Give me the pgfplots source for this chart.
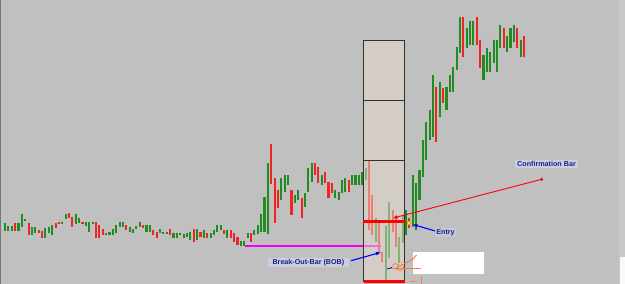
\documentclass[border=0pt]{standalone}
\usepackage{fontspec}
\setmainfont{Liberation Sans}
\usepackage{pgfplots}
\usepackage{pgfplotstable}
\pgfplotsset{compat=1.18}
\usetikzlibrary{arrows.meta}
\definecolor{bg}{RGB}{192,192,192}
\definecolor{gbar}{RGB}{34,139,34}
\definecolor{rbar}{RGB}{240,36,36}
\definecolor{boxfill}{RGB}{232,218,202}
\definecolor{navy}{RGB}{28,36,128}
\definecolor{lblbg}{RGB}{201,207,224}
\definecolor{orng}{RGB}{240,130,70}
\definecolor{mag}{RGB}{240,0,240}
\definecolor{stripc}{RGB}{200,200,200}

\pgfplotstableread{
x top bot
5.00 222.7 230.7
8.37 226.0 230.7
11.74 226.0 230.7
18.48 222.7 230.7
21.85 214.0 226.7
25.22 219.0 221.0
31.96 226.7 235.0
35.33 226.7 233.3
45.44 228.3 238.3
48.81 226.7 233.3
52.18 225.0 235.0
62.29 221.7 224.0
65.66 214.0 219.3
75.77 214.0 224.0
79.14 218.3 223.3
85.88 221.7 226.0
89.25 221.7 231.7
92.62 221.7 223.7
106.10 233.0 235.0
109.47 231.7 235.0
112.84 229.0 235.0
116.21 225.0 233.0
119.58 221.7 226.7
122.95 221.7 226.7
129.69 226.7 231.7
133.06 229.0 233.3
136.43 226.0 229.3
139.80 221.7 226.7
146.54 225.0 231.7
149.91 225.0 231.7
160.02 229.3 233.3
163.39 231.7 234.3
166.76 231.7 233.7
173.50 232.7 237.7
176.87 232.7 238.3
180.24 233.3 235.3
183.61 234.3 237.7
186.98 233.3 236.7
190.35 231.7 240.0
197.09 229.3 240.0
203.83 230.0 238.3
210.57 233.3 238.3
213.94 230.0 235.0
217.31 225.0 231.7
220.68 225.0 230.0
227.42 230.0 238.3
240.90 241.0 245.7
244.27 241.0 245.7
247.64 233.3 238.3
254.38 230.0 235.0
257.75 225.0 234.3
261.12 214.0 231.7
264.49 197.3 231.7
267.86 163.3 234.3
281.34 178.3 200.0
284.71 175.0 191.7
288.08 175.0 185.0
294.82 195.0 203.3
298.19 190.0 200.0
304.93 193.0 207.0
308.30 168.0 192.0
311.67 163.0 182.0
321.78 175.0 185.0
335.26 190.0 198.0
338.63 192.0 200.0
342.00 180.0 193.0
345.37 178.0 192.0
352.11 175.0 185.0
355.48 175.0 185.0
358.85 175.0 185.0
362.22 172.0 185.0
365.59 168.0 180.0
375.70 218.0 242.0
385.81 226.0 282.0
389.18 202.0 258.0
399.29 237.0 263.0
402.66 215.0 243.0
406.03 210.0 235.0
412.77 175.0 227.0
416.14 183.0 230.0
419.51 170.0 200.0
422.88 140.0 177.0
426.25 122.0 160.0
429.62 110.0 140.0
432.99 75.0 137.0
439.73 82.0 117.0
446.47 87.0 110.0
449.84 75.0 92.0
453.21 67.0 92.0
456.58 47.0 70.0
459.95 17.0 53.0
466.69 28.0 48.0
470.06 21.0 45.0
473.43 21.0 45.0
483.54 55.0 80.0
486.91 48.0 72.0
490.28 52.0 72.0
493.65 40.0 63.0
497.02 40.0 72.0
500.39 25.0 48.0
507.13 36.0 52.0
510.50 28.0 48.0
513.87 25.0 42.0
520.61 40.0 57.0
}\greenbars

\pgfplotstableread{
x top bot
15.11 222.7 230.7
28.59 222.7 235.0
38.70 230.0 233.3
42.07 230.7 238.3
55.55 223.3 228.3
58.92 221.7 224.0
69.03 213.3 218.3
72.40 216.7 227.3
82.51 221.7 223.7
95.99 221.7 238.3
99.36 225.0 238.3
102.73 229.0 235.0
126.32 225.0 230.0
143.17 225.0 228.3
153.28 230.0 235.0
156.65 231.7 237.7
170.13 229.3 235.0
193.72 229.3 241.7
200.46 231.7 236.7
207.20 233.3 238.3
224.05 230.0 234.3
230.79 230.0 238.3
234.16 233.3 241.7
237.53 236.7 245.0
251.01 233.3 242.3
271.23 144.3 184.3
274.60 178.3 223.3
277.97 190.0 207.7
291.45 190.0 215.0
301.56 198.3 218.3
315.04 163.0 175.0
318.41 167.0 183.0
325.15 172.0 183.0
328.52 182.0 198.0
331.89 183.0 193.0
348.74 180.0 192.0
368.96 160.0 230.0
372.33 195.0 235.0
379.07 222.0 253.0
382.44 252.0 262.0
392.55 210.0 232.0
395.92 218.0 247.0
409.40 218.0 228.0
436.36 87.0 142.0
443.10 88.0 103.0
463.32 17.0 57.0
476.80 17.0 45.0
480.17 40.0 68.0
503.76 28.0 48.0
517.24 28.0 48.0
523.98 36.0 57.0
}\redbars

\begin{document}
\begin{tikzpicture}
\begin{axis}[
  width=625bp, height=284bp, scale only axis,
  xmin=0, xmax=625, ymin=0, ymax=284, y dir=reverse,
  axis lines=none, ticks=none,
  axis background/.style={fill=bg},
  clip=true,
]
% right strip and left edge
\addplot[fill=stripc, draw=none] coordinates {(619,0) (625,0) (625,284) (619,284)};
\addplot[fill=white!92!bg, draw=none] coordinates {(619.5,257) (625,257) (625,284) (619.5,284)};
\addplot[draw={rgb,255:red,120;green,120;blue,120}, line width=1.2bp] coordinates {(0.6,0) (0.6,284)};

% bars
\addplot[draw=none, mark=none, error bars/.cd, y dir=plus, y explicit, error mark=none,
  error bar style={line width=2.1bp, draw=gbar, solid}]
  table[x=x, y=top, y error expr=\thisrow{bot}-\thisrow{top}] {\greenbars};
\addplot[draw=none, mark=none, error bars/.cd, y dir=plus, y explicit, error mark=none,
  error bar style={line width=2.1bp, draw=rbar, solid}]
  table[x=x, y=top, y error expr=\thisrow{bot}-\thisrow{top}] {\redbars};

% magenta line
\addplot[mag, line width=2.4bp] coordinates {(245,245.7) (380.7,245.7)};

% box overlay
\addplot[fill=boxfill, fill opacity=0.5, draw=none] coordinates {(363.3,40.3) (404.7,40.3) (404.7,281.7) (363.3,281.7)};
\addplot[draw={rgb,255:red,50;green,50;blue,50}, line width=1.1bp] coordinates {(363.3,40.3) (404.7,40.3) (404.7,281.7) (363.3,281.7) (363.3,40.3)};
\addplot[draw={rgb,255:red,50;green,50;blue,50}, line width=1.1bp] coordinates {(363.3,100.5) (404.7,100.5)};
\addplot[draw={rgb,255:red,50;green,50;blue,50}, line width=1.1bp] coordinates {(363.3,160.5) (404.7,160.5)};

% red levels
\addplot[red, line width=2.6bp] coordinates {(363.3,221.5) (405,221.5)};
\addplot[red, line width=2.8bp] coordinates {(364,281.6) (404.5,281.6)};

% confirmation arrow
\addplot[red, line width=0.9bp, -{Latex[length=5bp,width=4bp]}] coordinates {(541.7,179.3) (392.5,218.2)};
\addplot[red, only marks, mark=*, mark size=1.3bp] coordinates {(541.7,179.3)};

% blue arrows
\addplot[blue, line width=1.1bp, -{Latex[length=5bp,width=4bp]}] coordinates {(351,260.7) (381,252.3)};
\addplot[blue, line width=1.1bp, -{Latex[length=5bp,width=4bp]}] coordinates {(437,231.5) (412.3,224.3)};

% yellow entry dot
\addplot[only marks, mark=square*, mark size=1.4bp, yellow, mark options={draw=yellow!70!black, line width=0.3bp}] coordinates {(408.3,222.5)};

% white box
\addplot[fill=white, draw=none] coordinates {(412.7,251.7) (484.3,251.7) (484.3,274.3) (412.7,274.3)};

% orange scribbles
\addplot[orng, line width=1bp] coordinates {(390,268.3) (421,268.3)};
\addplot[orng, line width=1bp] coordinates {(396,268) (412.5,259.5) (416.5,255)};
\addplot[orng, line width=0.8bp] coordinates {(392,266) (395,263.5) (399,265) (396,269) (401,270.5) (404,266.5)};
\addplot[blue, line width=0.8bp] coordinates {(387,269) (392,267.5)};
\addplot[orng, line width=1bp] coordinates {(410,281.8) (416.5,281.8)};
\addplot[orng, line width=1bp] coordinates {(421.8,276) (421.8,284)};

% labels
\node[fill=lblbg, text=navy, font=\bfseries\fontsize{7.2}{8}\selectfont, inner xsep=4.5bp, inner ysep=1.3bp] at (axis cs:308.4,262.8) {Break-Out-Bar (BOB)};
\node[fill=lblbg, text=navy, font=\bfseries\fontsize{7.2}{8}\selectfont, inner xsep=2.5bp, inner ysep=1.3bp] at (axis cs:546.5,163.6) {Confirmation Bar};
\node[fill=lblbg!60!bg, text=navy, font=\bfseries\fontsize{7.2}{8}\selectfont, inner xsep=1.5bp, inner ysep=1bp] at (axis cs:445.5,232.7) {Entry};
\end{axis}
\end{tikzpicture}
\end{document}
